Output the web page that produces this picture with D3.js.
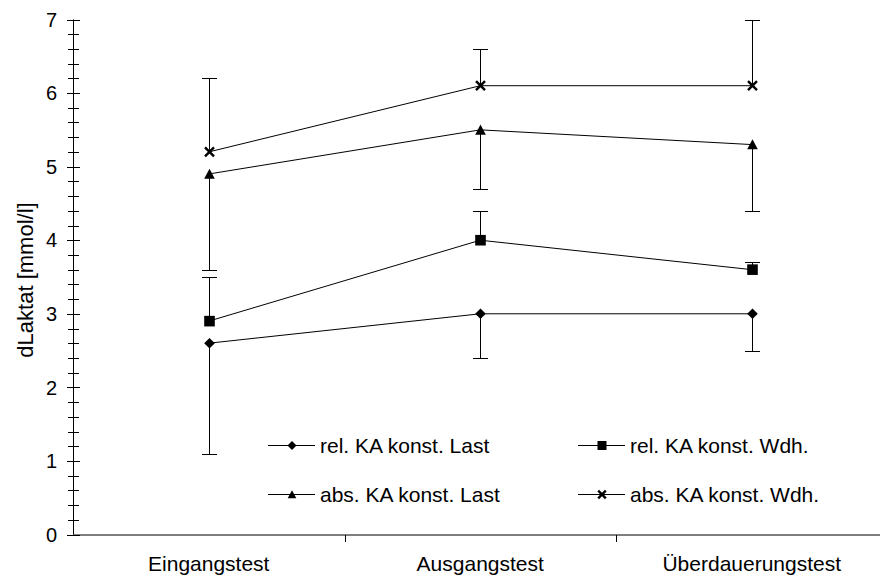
<!DOCTYPE html>
<html><head><meta charset="utf-8">
<script src="https://cdn.jsdelivr.net/npm/d3@7"></script>
<style>body{margin:0;background:#fff}svg{display:block}text{font-family:"Liberation Sans",Arial,sans-serif;fill:#000}</style>
</head><body><svg id="c" width="880" height="576"></svg>
<script>
const categories = ["Eingangstest","Ausgangstest","Überdauerungstest"];
const seriesNames = ["rel. KA konst. Last","rel. KA konst. Wdh.","abs. KA konst. Last","abs. KA konst. Wdh."];
const relLast = [2.6,3.0,3.0];
const relLastErr = [1.1,2.4,2.5];
const relWdh = [2.9,4.0,3.6];
const relWdhErr = [3.5,4.4,3.7];
const absLast = [4.9,5.5,5.3];
const absLastErr = [3.6,4.7,4.4];
const absWdh = [5.2,6.1,6.1];
const absWdhErr = [6.2,6.6,7.0];
const yTicks = [0,1,2,3,4,5,6,7];

// custom marker shapes, r = half width
const shapes = {
  diamond: r => `M0,${-r}L${r},0L0,${r}L${-r},0Z`,
  square: r => `M${-r},${-r}H${r}V${r}H${-r}Z`,
  triangle: r => `M0,${-r}L${r},${r*0.9}H${-r}Z`,
  cross: r => `M${-r},${-r}L${r},${r}M${r},${-r}L${-r},${r}`
};
const series = [
  {name:seriesNames[0], v:relLast, e:relLastErr, shape:"diamond", r:5.3, lr:4.5},
  {name:seriesNames[1], v:relWdh, e:relWdhErr, shape:"square", r:5.3, lr:4.5},
  {name:seriesNames[2], v:absLast, e:absLastErr, shape:"triangle", r:5.3, lr:4.3},
  {name:seriesNames[3], v:absWdh, e:absWdhErr, shape:"cross", r:4.5, lr:3.8}
];

const svg = d3.select("#c");
const x = d3.scaleBand().domain(categories).range([73,887.5]);
const y = d3.scaleLinear().domain([0,7]).range([534.5,19.5]);
const cx = c => x(c)+x.bandwidth()/2;

// y axis
const ya = svg.append("g");
ya.append("line").attr("x1",73.5).attr("x2",73.5).attr("y1",y(0)).attr("y2",y(7)).attr("stroke","#000");
const minor = d3.range(0,7.001,0.2);
ya.selectAll("line.m").data(minor).join("line").attr("class","m")
  .attr("x1",68).attr("x2",79).attr("y1",d=>Math.round(y(d))+0.5).attr("y2",d=>Math.round(y(d))+0.5).attr("stroke","#000");
ya.selectAll("line.M").data(yTicks).join("line").attr("class","M")
  .attr("x1",67).attr("x2",80).attr("y1",d=>Math.round(y(d))+0.5).attr("y2",d=>Math.round(y(d))+0.5).attr("stroke","#000");
ya.selectAll("text").data(yTicks).join("text")
  .attr("x",57).attr("y",d=>y(d)).attr("dy","0.36em").attr("text-anchor","end")
  .attr("font-size",20).text(d=>d);
svg.append("text").attr("transform","translate(25,280) rotate(-90)")
  .attr("text-anchor","middle").attr("dy","0.35em").attr("font-size",22).text("dLaktat [mmol/l]");

// x axis
svg.append("line").attr("x1",73).attr("x2",880).attr("y1",535).attr("y2",535).attr("stroke","#000");
svg.selectAll("line.xt").data(categories.slice(1)).join("line").attr("class","xt")
  .attr("x1",d=>Math.round(x(d))+0.5).attr("x2",d=>Math.round(x(d))+0.5).attr("y1",535).attr("y2",542).attr("stroke","#000");
svg.selectAll("text.xl").data(categories).join("text").attr("class","xl")
  .attr("x",cx).attr("y",571).attr("text-anchor","middle").attr("font-size",21).text(d=>d);

// series
const line = d3.line().x((d,i)=>cx(categories[i])).y(d=>y(d));
function drawShape(sel, s, r){
  sel.attr("d",shapes[s.shape](r))
    .attr("fill", s.shape==="cross"?"none":"#000")
    .attr("stroke", s.shape==="cross"?"#000":"none")
    .attr("stroke-width", s.shape==="cross"?2.4:0);
}
series.forEach(s=>{
  const g = svg.append("g");
  g.append("path").attr("d",line(s.v)).attr("fill","none").attr("stroke","#000").attr("stroke-width",1);
  s.v.forEach((v,i)=>{
    const xx = Math.round(cx(categories[i]))+0.5;
    const ye = Math.round(y(s.e[i]))+0.5;
    g.append("line").attr("x1",xx).attr("x2",xx).attr("y1",y(v)).attr("y2",ye).attr("stroke","#000");
    g.append("line").attr("x1",xx-7.5).attr("x2",xx+7.5).attr("y1",ye).attr("y2",ye).attr("stroke","#000");
  });
  g.selectAll("path.sym").data(s.v).join("path").attr("class","sym")
    .attr("transform",(d,i)=>`translate(${Math.round(cx(categories[i]))+0.5},${y(d)})`)
    .call(drawShape, s, s.r);
});

// legend
const legPos = [[268,445],[578,445],[268,494],[578,494]];
series.forEach((s,i)=>{
  const [lx,ly] = legPos[i];
  const g = svg.append("g").attr("transform",`translate(${lx},${ly})`);
  g.append("line").attr("x1",0).attr("x2",47).attr("y1",0.5).attr("y2",0.5).attr("stroke","#000");
  g.append("path").attr("transform","translate(24,0.5)").call(drawShape, s, s.lr);
  g.append("text").attr("x",52).attr("y",0).attr("dy","0.36em").attr("font-size",21).text(s.name);
});
</script></body></html>
